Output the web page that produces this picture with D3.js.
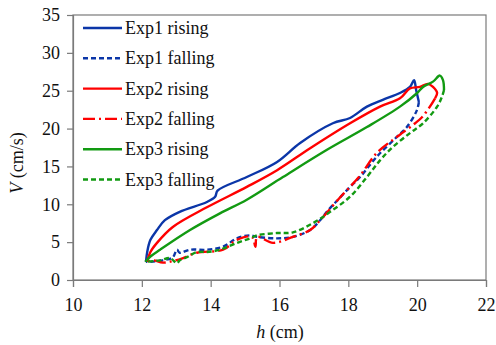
<!DOCTYPE html>
<html>
<head>
<meta charset="utf-8">
<script src="https://d3js.org/d3.v7.min.js"></script>
<style>
  body { margin: 0; background: #fff; }
  svg text { font-family: "Liberation Serif", "DejaVu Serif", serif !important; }
</style>
</head>
<body>
<div id="chart"></div>
<script>
// h (cm), V (cm/s)
var exp1RiseH = [12.12, 12.16, 12.25, 12.44, 12.67, 13.1, 13.89, 14.13, 14.2, 15.05, 15.93, 16.6, 17.55, 18.05, 18.54, 19.0, 19.5, 19.79, 19.91, 19.97, 20.05];
var exp1RiseV = [2.4, 3.8, 5.3, 6.6, 7.9, 9.0, 10.3, 11.0, 11.8, 13.6, 15.6, 18.1, 20.7, 21.4, 22.9, 23.8, 24.7, 25.5, 26.4, 25.1, 23.5];
var exp1FallH = [20.05, 19.99, 19.7, 19.41, 18.83, 18.34, 18.05, 17.7, 17.41, 17.18, 16.89, 16.39, 15.93, 15.35, 15.14, 14.76, 14.36, 13.89, 13.4, 13.1, 13.02, 12.9, 12.61, 12.24, 12.12];
var exp1FallV = [23.5, 22.4, 20.2, 18.9, 16.3, 13.6, 12.3, 10.6, 9.2, 7.9, 6.6, 5.7, 5.5, 5.7, 5.9, 5.5, 4.4, 4.0, 4.0, 3.6, 4.0, 3.0, 2.6, 2.4, 2.4];
var exp2RiseH = [12.15, 12.25, 12.44, 12.9, 13.89, 15.05, 15.93, 16.89, 18.05, 18.92, 19.5, 19.79, 20.08, 20.31, 20.46, 20.58, 20.52];
var exp2RiseV = [2.4, 3.7, 4.9, 7.0, 9.6, 12.3, 14.5, 17.4, 20.7, 22.9, 24.0, 25.3, 25.5, 25.9, 25.5, 24.7, 24.0];
var exp2FallH = [20.52, 20.37, 20.14, 19.94, 19.59, 19.41, 18.83, 18.34, 17.7, 17.18, 16.89, 16.39, 15.81, 15.35, 15.3, 15.2, 14.76, 14.36, 13.6, 13.2, 12.9, 12.61, 12.32, 12.15];
var exp2FallV = [24.0, 22.9, 21.5, 20.7, 19.5, 18.9, 16.8, 13.8, 10.6, 7.9, 6.6, 5.7, 4.9, 5.7, 4.4, 5.7, 5.3, 4.0, 3.6, 2.9, 2.5, 2.3, 2.6, 2.4];
var exp3RiseH = [12.1, 12.25, 12.53, 13.4, 14.27, 15.05, 16.1, 17.38, 18.54, 19.5, 20.0, 20.17, 20.46, 20.66, 20.75, 20.78];
var exp3RiseV = [2.4, 3.1, 4.0, 6.6, 8.8, 10.6, 13.6, 17.2, 20.2, 22.9, 24.7, 25.5, 26.2, 27.0, 26.4, 25.1];
var exp3FallH = [20.78, 20.72, 20.58, 20.17, 19.79, 19.3, 18.92, 18.54, 18.05, 17.47, 16.97, 16.39, 15.93, 15.35, 15.14, 14.76, 14.27, 13.89, 13.6, 13.31, 13.1, 13.02, 12.82, 12.53, 12.1];
var exp3FallV = [25.1, 24.2, 22.9, 20.7, 19.4, 17.6, 15.8, 13.6, 11.0, 9.0, 7.5, 6.3, 6.2, 5.9, 5.5, 4.9, 4.0, 3.7, 3.7, 3.0, 2.6, 2.2, 2.9, 2.6, 2.4];

var seriesNames = ["Exp1 rising", "Exp1 falling", "Exp2 rising", "Exp2 falling", "Exp3 rising", "Exp3 falling"];
var xTicks = [10, 12, 14, 16, 18, 20, 22];
var yTicks = [0, 5, 10, 15, 20, 25, 30, 35];

var blue = "#0b36a8", red = "#ff0000", green = "#129a12";
var series = [
  { h: exp1RiseH, v: exp1RiseV, color: blue, dash: null },
  { h: exp1FallH, v: exp1FallV, color: blue, dash: "5,3" },
  { h: exp2RiseH, v: exp2RiseV, color: red, dash: null },
  { h: exp2FallH, v: exp2FallV, color: red, dash: "12,4,2,4" },
  { h: exp3RiseH, v: exp3RiseV, color: green, dash: null },
  { h: exp3FallH, v: exp3FallV, color: green, dash: "5,3" }
];

var width = 496, height = 345;
var margin = { left: 73, right: 10, top: 15, bottom: 65 };

var svg = d3.select("#chart").append("svg")
  .attr("width", width)
  .attr("height", height);

var x = d3.scaleLinear().domain([10, 22]).range([margin.left, width - margin.right]);
var y = d3.scaleLinear().domain([0, 35]).range([height - margin.bottom, margin.top]);

// frame
svg.append("rect")
  .attr("x", x(10)).attr("y", y(35))
  .attr("width", x(22) - x(10)).attr("height", y(0) - y(35))
  .attr("fill", "none").attr("stroke", "#7a7a7a").attr("stroke-width", 1.2);

var xAxis = svg.append("g")
  .attr("transform", "translate(0," + y(0) + ")")
  .call(d3.axisBottom(x).tickValues(xTicks).tickSize(7).tickPadding(11));
var yAxis = svg.append("g")
  .attr("transform", "translate(" + x(10) + ",0)")
  .call(d3.axisLeft(y).tickValues(yTicks).tickSize(6).tickPadding(7));

[xAxis, yAxis].forEach(function(a) {
  a.attr("font-size", 18);
  a.select(".domain").attr("stroke", "#7a7a7a").attr("stroke-width", 1.2);
  a.selectAll(".tick line").attr("stroke", "#7a7a7a").attr("stroke-width", 1.2);
  a.selectAll(".tick text").attr("fill", "#111");
});

var line = d3.line()
  .x(function(d) { return x(d[0]); })
  .y(function(d) { return y(d[1]); })
  .curve(d3.curveCatmullRom.alpha(0.5));

series.forEach(function(s) {
  svg.append("path")
    .datum(d3.zip(s.h, s.v))
    .attr("d", line)
    .attr("fill", "none")
    .attr("stroke", s.color)
    .attr("stroke-width", 2.4)
    .attr("stroke-linejoin", "round")
    .attr("stroke-dasharray", s.dash);
});

// legend
var legend = svg.append("g");
series.forEach(function(s, i) {
  var ly = 28 + i * 30.3;
  legend.append("line")
    .attr("x1", 83).attr("x2", 122)
    .attr("y1", ly).attr("y2", ly)
    .attr("stroke", s.color)
    .attr("stroke-width", 2.4)
    .attr("stroke-dasharray", s.dash);
  legend.append("text")
    .attr("x", 125).attr("y", ly + 6)
    .attr("font-size", 18)
    .attr("fill", "#111")
    .text(seriesNames[i]);
});

// axis titles
var xt = svg.append("text")
  .attr("x", 280).attr("y", 338)
  .attr("text-anchor", "middle")
  .attr("font-size", 18)
  .attr("fill", "#111");
xt.append("tspan").attr("font-style", "italic").text("h");
xt.append("tspan").text(" (cm)");

var yt = svg.append("text")
  .attr("transform", "translate(23,163) rotate(-90)")
  .attr("text-anchor", "middle")
  .attr("font-size", 18)
  .attr("fill", "#111");
yt.append("tspan").attr("font-style", "italic").text("V");
yt.append("tspan").text(" (cm/s)");
</script>
</body>
</html>
